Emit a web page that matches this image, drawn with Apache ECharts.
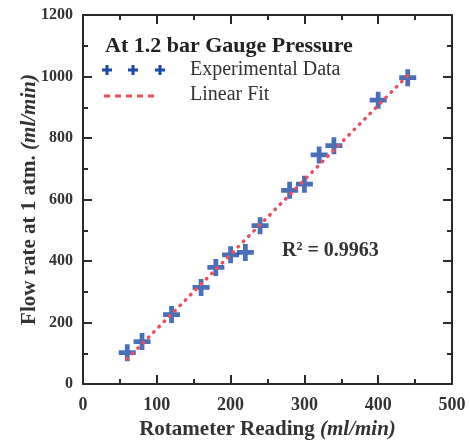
<!DOCTYPE html>
<html lang="en">
<head>
    <meta charset="UTF-8">
    <title>flow rate</title>
    <style>
        html, body { margin: 0; padding: 0; background: #fff; }
        #chart { width: 470px; height: 440px; }
    </style>
</head>
<body>
<div id="chart"></div>
<script src="https://cdn.jsdelivr.net/npm/echarts@6/dist/echarts.min.js"></script>
<script type="text/javascript">
    // rotameter reading (ml/min)
    var rotameter = [60, 80, 120, 160, 180, 200, 220, 240, 280, 300, 320, 340, 400, 440];
    // flow rate at 1 atm (ml/min)
    var flowRate = [102, 138, 226, 314, 379, 420, 428, 515, 630, 650, 745, 775, 923, 996];
    // linear fit end points
    var fitX = [60, 440];
    var fitY = [82, 1003];
    var xTicks = [0, 100, 200, 300, 400, 500];
    var yTicks = [0, 200, 400, 600, 800, 1000, 1200];

    var serif = '"Liberation Serif", "DejaVu Serif", serif';
    var plusPath = 'path://M0,3.6 H3.6 V0 H6.4 V3.6 H10 V6.4 H6.4 V10 H3.6 V6.4 H0 Z';
    var blue = '#1a4ca6';
    var red = '#ef4d5c';
    var ink = '#2a2a2a';

    function pairs(xs, ys) {
        var out = [];
        for (var i = 0; i < xs.length; i++) {
            out.push([xs[i], ys[i]]);
        }
        return out;
    }

    // small plus sign for the hand made legend
    function legendPlus(cx, cy) {
        var h = 5, t = 1.5;
        return {
            type: 'polygon',
            shape: {
                points: [
                    [cx - h, cy - t], [cx - t, cy - t], [cx - t, cy - h], [cx + t, cy - h],
                    [cx + t, cy - t], [cx + h, cy - t], [cx + h, cy + t], [cx + t, cy + t],
                    [cx + t, cy + h], [cx - t, cy + h], [cx - t, cy + t], [cx - h, cy + t]
                ]
            },
            style: { fill: blue }
        };
    }

    function makeAxis(ticks, position, label) {
        return {
            type: 'value',
            position: position,
            min: ticks[0],
            max: ticks[ticks.length - 1],
            interval: ticks[1] - ticks[0],
            axisLine: { show: true, onZero: false, lineStyle: { color: ink, width: 2 } },
            axisTick: { show: true, inside: true, length: 9, lineStyle: { color: ink, width: 2 } },
            minorTick: { show: true, splitNumber: 2, length: 5, lineStyle: { color: ink, width: 2 } },
            splitLine: { show: false },
            axisLabel: label || { show: false }
        };
    }

    var nameStyle = {
        rich: {
            b: { fontFamily: serif, fontWeight: 'bold', fontSize: 21, color: '#333' },
            i: { fontFamily: serif, fontWeight: 'bold', fontStyle: 'italic', fontSize: 21, color: '#333' }
        }
    };

    var xMain = makeAxis(xTicks, 'bottom', {
        fontFamily: serif, fontWeight: 'bold', fontSize: 18, color: '#333', margin: 12,
        formatter: function (v) { return String(v); }
    });
    xMain.name = '{b|Rotameter Reading }{i|(ml/min)}';
    xMain.nameLocation = 'middle';
    xMain.nameGap = 35;
    xMain.nameMoveOverlap = false;
    xMain.nameTextStyle = nameStyle;

    var yMain = makeAxis(yTicks, 'left', {
        fontFamily: serif, fontWeight: 'bold', fontSize: 16, color: '#333', margin: 10,
        formatter: function (v) { return String(v); }
    });
    yMain.name = '{b|Flow rate at 1 atm. }{i|(ml/min)}';
    yMain.nameLocation = 'middle';
    yMain.nameGap = 43;
    yMain.nameMoveOverlap = false;
    yMain.nameTextStyle = nameStyle;

    var option = {
        backgroundColor: '#fff',
        animation: false,
        grid: { left: 83, right: 18, top: 15, bottom: 56, containLabel: false, outerBoundsMode: 'none' },
        xAxis: [xMain, makeAxis(xTicks, 'top')],
        yAxis: [yMain, makeAxis(yTicks, 'right')],
        series: [
            {
                name: 'Experimental Data',
                type: 'scatter',
                symbol: plusPath,
                symbolSize: 17,
                itemStyle: { color: blue },
                data: pairs(rotameter, flowRate),
                z: 2
            },
            {
                name: 'Linear Fit',
                type: 'line',
                showSymbol: false,
                lineStyle: { color: red, width: 3.5, type: [0.5, 7], cap: 'round' },
                data: pairs(fitX, fitY),
                z: 3
            }
        ],
        graphic: [
            {
                type: 'text', left: 105, top: 35,
                style: { text: 'At 1.2 bar Gauge Pressure', font: 'bold 22px ' + serif, fill: '#222' }
            },
            legendPlus(107, 70),
            legendPlus(133, 70),
            legendPlus(160, 70),
            {
                type: 'text', left: 190, top: 60,
                style: { text: 'Experimental Data', font: '20px ' + serif, fill: '#333' }
            },
            {
                type: 'line', shape: { x1: 104, y1: 96, x2: 158, y2: 96 },
                style: { stroke: red, lineWidth: 3, lineDash: [6, 5] }
            },
            {
                type: 'text', left: 190, top: 85,
                style: { text: 'Linear Fit', font: '20px ' + serif, fill: '#333' }
            },
            {
                type: 'text', left: 282, top: 241,
                style: {
                    text: '{b|R}{s|2}{b| = 0.9963}',
                    rich: {
                        b: { font: 'bold 20px ' + serif, fill: '#333' },
                        s: { font: 'bold 12px ' + serif, fill: '#333', verticalAlign: 'top', padding: [0, 0, 8, 0] }
                    }
                }
            }
        ]
    };

    var chart = echarts.init(document.getElementById('chart'));
    chart.setOption(option);
</script>
</body>
</html>
